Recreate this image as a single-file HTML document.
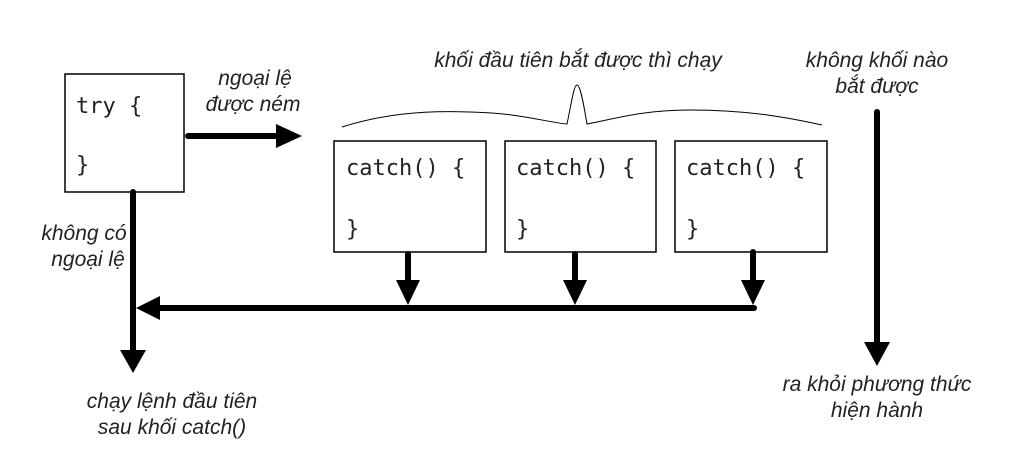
<!DOCTYPE html>
<html><head><meta charset="utf-8"><style>
html,body{margin:0;padding:0;background:#fff;}
svg{display:block}
.t{font-family:"Liberation Sans",Arial,sans-serif;font-style:italic;font-size:21px;fill:#222;}
.m{font-family:"DejaVu Sans Mono","Liberation Mono",monospace;font-size:22px;fill:#222;}
</style></head><body>
<svg width="1020" height="466" viewBox="0 0 1020 466" xmlns="http://www.w3.org/2000/svg">
<g fill="#fff" stroke="#000" stroke-width="1.5">
<rect x="65" y="74" width="119" height="118"/>
<rect x="334" y="141" width="152" height="111"/>
<rect x="505" y="141" width="151" height="111"/>
<rect x="675" y="141" width="152" height="111"/>
</g>
<text class="m" x="76" y="113">try {</text>
<text class="m" x="76" y="172">}</text>
<text class="m" x="346" y="175">catch() {</text>
<text class="m" x="346" y="236">}</text>
<text class="m" x="516" y="175">catch() {</text>
<text class="m" x="516" y="236">}</text>
<text class="m" x="686" y="175">catch() {</text>
<text class="m" x="686" y="236">}</text>
<path d="M342,127 C380,115 420,110 470,112 C520,113 545,122 567,124 C572,100 574,85 577,85 C580,85 583,100 587,124 C610,120 640,110 690,110 C750,110 790,118 822,125" fill="none" stroke="#000" stroke-width="1"/>
<g stroke="#000" stroke-width="6" stroke-linecap="round" fill="none">
<line x1="188" y1="136" x2="278" y2="136"/>
<line x1="133" y1="192" x2="133" y2="350"/>
<line x1="160" y1="308" x2="754" y2="308"/>
<line x1="408" y1="254" x2="408" y2="282"/>
<line x1="575" y1="254" x2="575" y2="282"/>
<line x1="753" y1="252" x2="753" y2="282"/>
<line x1="877" y1="112" x2="877" y2="344"/>
</g>
<g fill="#000">
<polygon points="276,124 302,136 276,148"/>
<polygon points="136,308 160,296 160,320"/>
<polygon points="120,350 146,350 133,373"/>
<polygon points="396,280 420,280 408,305"/>
<polygon points="563,280 587,280 575,305"/>
<polygon points="741,280 765,280 753,305"/>
<polygon points="864,342 890,342 877,366"/>
</g>
<text class="t" x="255" y="85" text-anchor="middle">ngoại lệ</text>
<text class="t" x="253" y="111" text-anchor="middle">được ném</text>
<text class="t" x="578" y="67" text-anchor="middle">khối đầu tiên bắt được thì chạy</text>
<text class="t" x="877" y="67" text-anchor="middle">không khối nào</text>
<text class="t" x="877" y="93" text-anchor="middle">bắt được</text>
<text class="t" x="84" y="240" text-anchor="middle">không có</text>
<text class="t" x="88" y="266" text-anchor="middle">ngoại lệ</text>
<text class="t" x="172" y="408" text-anchor="middle">chạy lệnh đầu tiên</text>
<text class="t" x="172" y="434" text-anchor="middle">sau khối catch()</text>
<text class="t" x="877" y="391" text-anchor="middle">ra khỏi phương thức</text>
<text class="t" x="877" y="417" text-anchor="middle">hiện hành</text>
</svg>
</body></html>
